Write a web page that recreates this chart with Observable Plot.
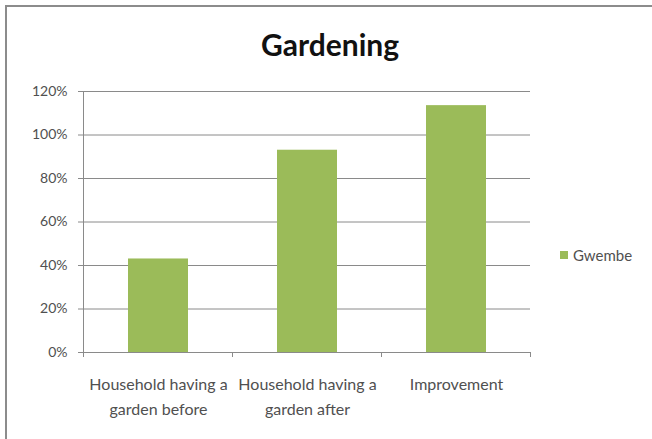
<!DOCTYPE html>
<html>
<head>
<meta charset="utf-8">
<script src="https://cdn.jsdelivr.net/npm/d3@7"></script>
<script src="https://cdn.jsdelivr.net/npm/@observablehq/plot@0.6"></script>
<style>
  html, body { margin: 0; padding: 0; background: #fff; }
  #wrap { position: relative; width: 652px; height: 439px; overflow: hidden; font-family: Lato, "Open Sans", sans-serif; }
  #border { position: absolute; left: 5px; top: 5px; width: 700px; height: 500px; border: 2px solid #8c8c8c; box-sizing: border-box; }
  #title { position: absolute; left: 0; width: 660px; top: 26px; text-align: center; font-size: 30px; line-height: 36px; font-weight: bold; color: #111; }
  #chart { position: absolute; left: 0; top: 70px; }
  #legend { position: absolute; left: 560px; top: 246px; font-size: 15px; color: #505050; display: flex; align-items: center; }
  #legend .sw { width: 8px; height: 8px; margin-right: 5px; }
</style>
</head>
<body>
<div id="wrap">
  <div id="border"></div>
  <div id="title">Gardening</div>
  <div id="chart"></div>
  <div id="legend"></div>
</div>
<script>
const categories = ["Household having a garden before", "Household having a garden after", "Improvement"];
const xTickLabels = ["Household having a\ngarden before", "Household having a\ngarden after", "Improvement"];
const seriesName = "Gwembe";
const values = [0.43, 0.93, 1.135];
const yTicks = [0, 0.2, 0.4, 0.6, 0.8, 1.0, 1.2];
const barColor = "#9bbb59";

const data = categories.map((c, i) => ({category: c, value: values[i]}));
const labelOf = new Map(categories.map((c, i) => [c, xTickLabels[i]]));

const boundaryTicks = (index, scales, values, dims) => {
  const x = scales.x;
  const step = x.step();
  const g = d3.create("svg:g").attr("stroke", "#8a8a8a").attr("stroke-width", 1);
  const y0 = dims.height - dims.marginBottom;
  const xs = categories.map(c => x(c) + x.bandwidth() / 2 - step / 2);
  xs.push(x(categories[categories.length - 1]) + x.bandwidth() / 2 + step / 2);
  for (const px of xs) {
    g.append("line").attr("x1", px).attr("x2", px).attr("y1", y0).attr("y2", y0 + 5);
  }
  return g.node();
};

const chart = Plot.plot({
  width: 540,
  height: 360,
  marginLeft: 83,
  marginRight: 10,
  marginTop: 21,
  marginBottom: 78,
  style: {fontFamily: "Lato, 'Open Sans', sans-serif", background: "transparent", overflow: "visible"},
  x: {type: "band", domain: categories, paddingInner: 0.6, paddingOuter: 0.3},
  y: {domain: [0, 1.2]},
  marks: [
    Plot.gridY(yTicks, {stroke: "#8a8a8a", strokeOpacity: 1, strokeWidth: 1}),
    Plot.barY(data, {x: "category", y: "value", fill: barColor}),
    Plot.ruleY([0], {stroke: "#8a8a8a", strokeWidth: 1}),
    Plot.frame({anchor: "left", stroke: "#8a8a8a"}),
    Plot.axisY(yTicks, {tickFormat: d => Math.round(d * 100) + "%", tickSize: 5, tickPadding: 11, fontSize: 14, fill: "#505050", stroke: "#8a8a8a", label: null}),
    Plot.axisX({tickSize: 0, tickPadding: 19, fontSize: 16, fill: "#505050", tickFormat: d => labelOf.get(d), lineHeight: 1.6, label: null}),
    boundaryTicks
  ]
});
document.getElementById("chart").appendChild(chart);

const legend = document.getElementById("legend");
legend.innerHTML = `<div class="sw" style="background:${barColor}"></div><span>${seriesName}</span>`;
</script>
</body>
</html>
